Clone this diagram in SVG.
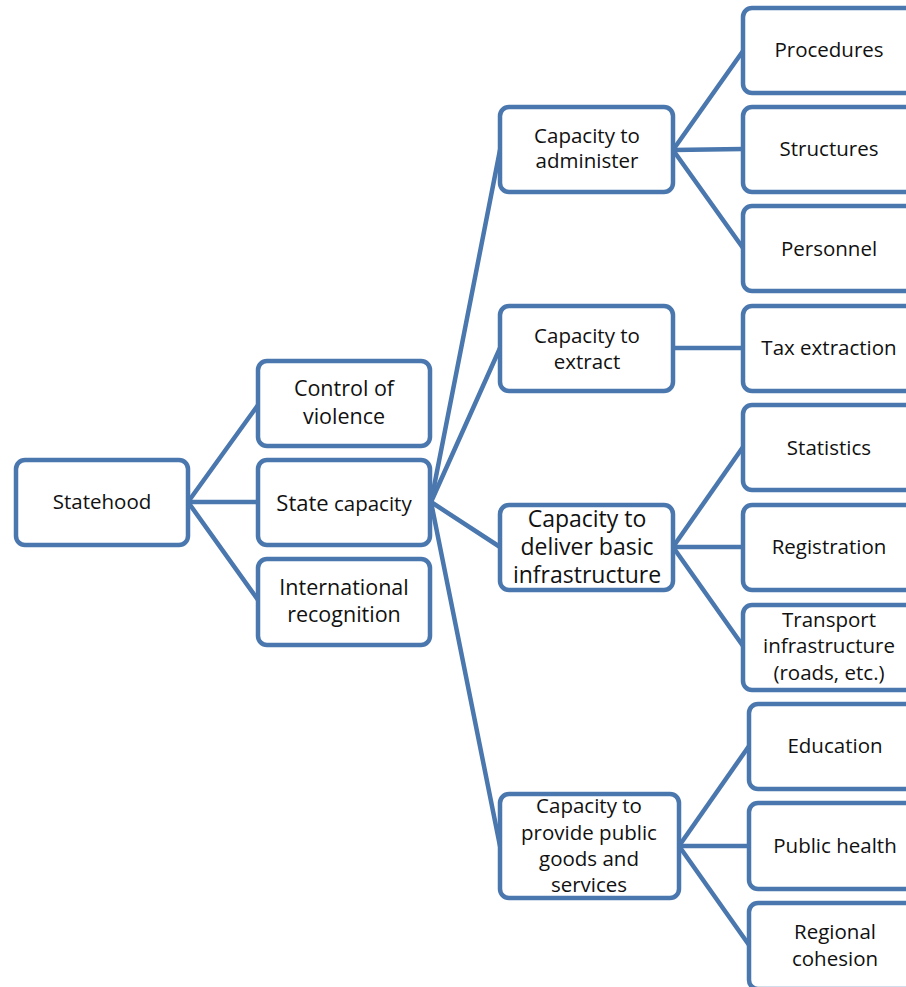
<svg xmlns="http://www.w3.org/2000/svg" width="906" height="987" viewBox="0 0 906 987">
<style>
.box{fill:#fff;stroke:#4a77ae;stroke-width:4.5}
.c line{stroke:#4a77ae;stroke-width:4.5;stroke-linecap:round}
text{font-family:"Open Sans","Liberation Sans",sans-serif;font-size:20.5px;fill:#111;text-anchor:middle}
.l{font-size:21.5px}
.xl{font-size:23px}
</style>
<rect width="906" height="987" fill="#fff"/>
<g class="c" id="connectors">
<line x1="188" y1="502" x2="258" y2="405"/>
<line x1="188" y1="502" x2="258" y2="502"/>
<line x1="188" y1="502" x2="258" y2="600"/>
<line x1="431" y1="502" x2="500" y2="150"/>
<line x1="431" y1="502" x2="500" y2="348"/>
<line x1="431" y1="502" x2="500" y2="547"/>
<line x1="431" y1="502" x2="500" y2="846"/>
<line x1="673" y1="150" x2="743" y2="51"/>
<line x1="673" y1="150" x2="743" y2="149"/>
<line x1="673" y1="150" x2="743" y2="248"/>
<line x1="673" y1="348" x2="743" y2="348"/>
<line x1="673" y1="547" x2="743" y2="447"/>
<line x1="673" y1="547" x2="743" y2="547"/>
<line x1="673" y1="547" x2="743" y2="646"/>
<line x1="679" y1="846" x2="749" y2="746"/>
<line x1="679" y1="846" x2="749" y2="846"/>
<line x1="679" y1="846" x2="749" y2="945"/>
</g>
<g id="statehood"><rect class="box" x="16" y="460" width="172" height="85" rx="9"/><text x="102" y="509">Statehood</text></g>
<g id="control"><rect class="box" x="258" y="361" width="172" height="85" rx="9"/><text class="l" x="344" y="396">Control of</text><text class="l" x="344" y="424">violence</text></g>
<g id="statecap"><rect class="box" x="258" y="460" width="172" height="85" rx="9"/><text x="344" y="511"><tspan font-size="22">State</tspan> capacity</text></g>
<g id="intl"><rect class="box" x="258" y="559" width="172" height="86" rx="9"/><text class="l" x="344" y="595">International</text><text class="l" x="344" y="622">recognition</text></g>
<g id="admin"><rect class="box" x="500" y="107" width="173" height="85" rx="9"/><text x="587" y="143">Capacity to</text><text x="587" y="168">administer</text></g>
<g id="procedures"><rect class="box" x="743" y="8" width="180" height="85" rx="9"/><text x="829" y="57">Procedures</text></g>
<g id="structures"><rect class="box" x="743" y="107" width="180" height="85" rx="9"/><text x="829" y="156">Structures</text></g>
<g id="personnel"><rect class="box" x="743" y="206" width="180" height="85" rx="9"/><text x="829" y="256">Personnel</text></g>
<g id="extract"><rect class="box" x="500" y="306" width="173" height="85" rx="9"/><text x="587" y="343">Capacity to</text><text x="587" y="369">extract</text></g>
<g id="tax"><rect class="box" x="743" y="306" width="180" height="85" rx="9"/><text x="829" y="355">Tax extraction</text></g>
<g id="statistics"><rect class="box" x="743" y="405" width="180" height="85" rx="9"/><text x="829" y="455">Statistics</text></g>
<g id="deliver"><rect class="box" x="500" y="505" width="173" height="85" rx="9"/><text class="xl" x="587" y="527">Capacity to</text><text class="xl" x="587" y="555">deliver basic</text><text class="xl" x="587" y="583">infrastructure</text></g>
<g id="registration"><rect class="box" x="743" y="505" width="180" height="85" rx="9"/><text x="829" y="554">Registration</text></g>
<g id="transport"><rect class="box" x="743" y="605" width="180" height="85" rx="9"/><text x="829" y="627">Transport</text><text x="829" y="653">infrastructure</text><text x="829" y="680">(roads, etc.)</text></g>
<g id="provide"><rect class="box" x="500" y="794" width="179" height="104" rx="9"/><text x="589" y="813">Capacity to</text><text x="589" y="840">provide public</text><text x="589" y="866">goods and</text><text x="589" y="892">services</text></g>
<g id="education"><rect class="box" x="749" y="704" width="180" height="85" rx="9"/><text x="835" y="753">Education</text></g>
<g id="health"><rect class="box" x="749" y="803" width="180" height="86" rx="9"/><text x="835" y="853">Public health</text></g>
<g id="regional"><rect class="box" x="749" y="903" width="180" height="86" rx="9"/><text x="835" y="939">Regional</text><text x="835" y="966">cohesion</text></g>
</svg>
